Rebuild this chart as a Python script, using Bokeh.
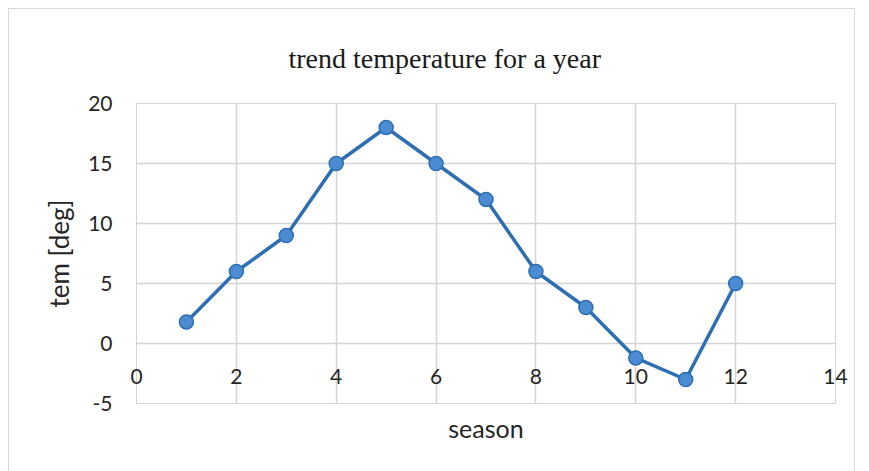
from bokeh.plotting import figure
from bokeh.models import LinearAxis, Range1d
from bokeh.embed import file_html
from bokeh.resources import INLINE

# data
season = [1, 2, 3, 4, 5, 6, 7, 8, 9, 10, 11, 12]
temperature = [1.8, 6, 9, 15, 18, 15, 12, 6, 3, -1.2, -3, 5]
x_ticks = [0, 2, 4, 6, 8, 10, 12, 14]
y_ticks = [-5, 0, 5, 10, 15, 20]
y_tick_labels = ["-5", "0", "5", "10", "15", "20"]

LINE = "#2e6eb3"
FILL = "#4b8bd2"
GRID = "#d4d4d4"
TEXT = "#262626"
FONT = "Lato"

p = figure(width=845, height=462, output_backend="svg", toolbar_location=None,
           x_range=Range1d(0, 14), y_range=Range1d(-5, 20),
           frame_width=699, frame_height=300,
           min_border_left=127, min_border_top=94, min_border_right=19, min_border_bottom=68,
           x_axis_location=None, y_axis_location=None,
           styles={"border": "1px solid #d9d9d9", "margin-left": "8px", "margin-top": "8px"})
p.outline_line_color = GRID

# y axis
yax = LinearAxis(ticker=y_ticks)
yax.major_label_overrides = dict(zip(y_ticks, y_tick_labels))
yax.axis_line_color = None
yax.major_tick_line_color = None
yax.minor_tick_line_color = None
yax.major_label_standoff = 18
yax.major_label_text_font = FONT
yax.major_label_text_font_size = "21px"
yax.major_label_text_color = TEXT
yax.axis_label = "tem [deg]"
yax.axis_label_text_font = FONT
yax.axis_label_text_font_size = "26px"
yax.axis_label_text_font_style = "normal"
yax.axis_label_text_color = TEXT
yax.axis_label_standoff = 10
p.add_layout(yax, "left")

# x axis: labels pulled up so they sit just under the y=0 line
xax = LinearAxis(ticker=x_ticks)
xax.axis_line_color = None
xax.major_tick_line_color = None
xax.minor_tick_line_color = None
xax.major_label_standoff = -41
xax.major_label_text_font = FONT
xax.major_label_text_font_size = "21px"
xax.major_label_text_color = TEXT
xax.axis_label = "season"
xax.axis_label_text_font = FONT
xax.axis_label_text_font_size = "25px"
xax.axis_label_text_font_style = "normal"
xax.axis_label_text_color = TEXT
xax.axis_label_standoff = 26
p.add_layout(xax, "below")

p.xgrid.ticker = x_ticks
p.ygrid.ticker = y_ticks
p.grid.grid_line_color = GRID
p.grid.grid_line_width = 1.5

p.title.text = "trend temperature for a year"
p.title.text_font = "Liberation Serif"
p.title.text_font_size = "28px"
p.title.text_font_style = "normal"
p.title.text_color = "#1a1a1a"
p.title.align = "left"
p.title.offset = 152
p.title.standoff = 60

p.line(season, temperature, line_color=LINE, line_width=3.5)
p.scatter(season, temperature, size=14, fill_color=FILL, line_color=LINE, line_width=1.5)

open("out.html", "w").write(file_html(p, INLINE))
